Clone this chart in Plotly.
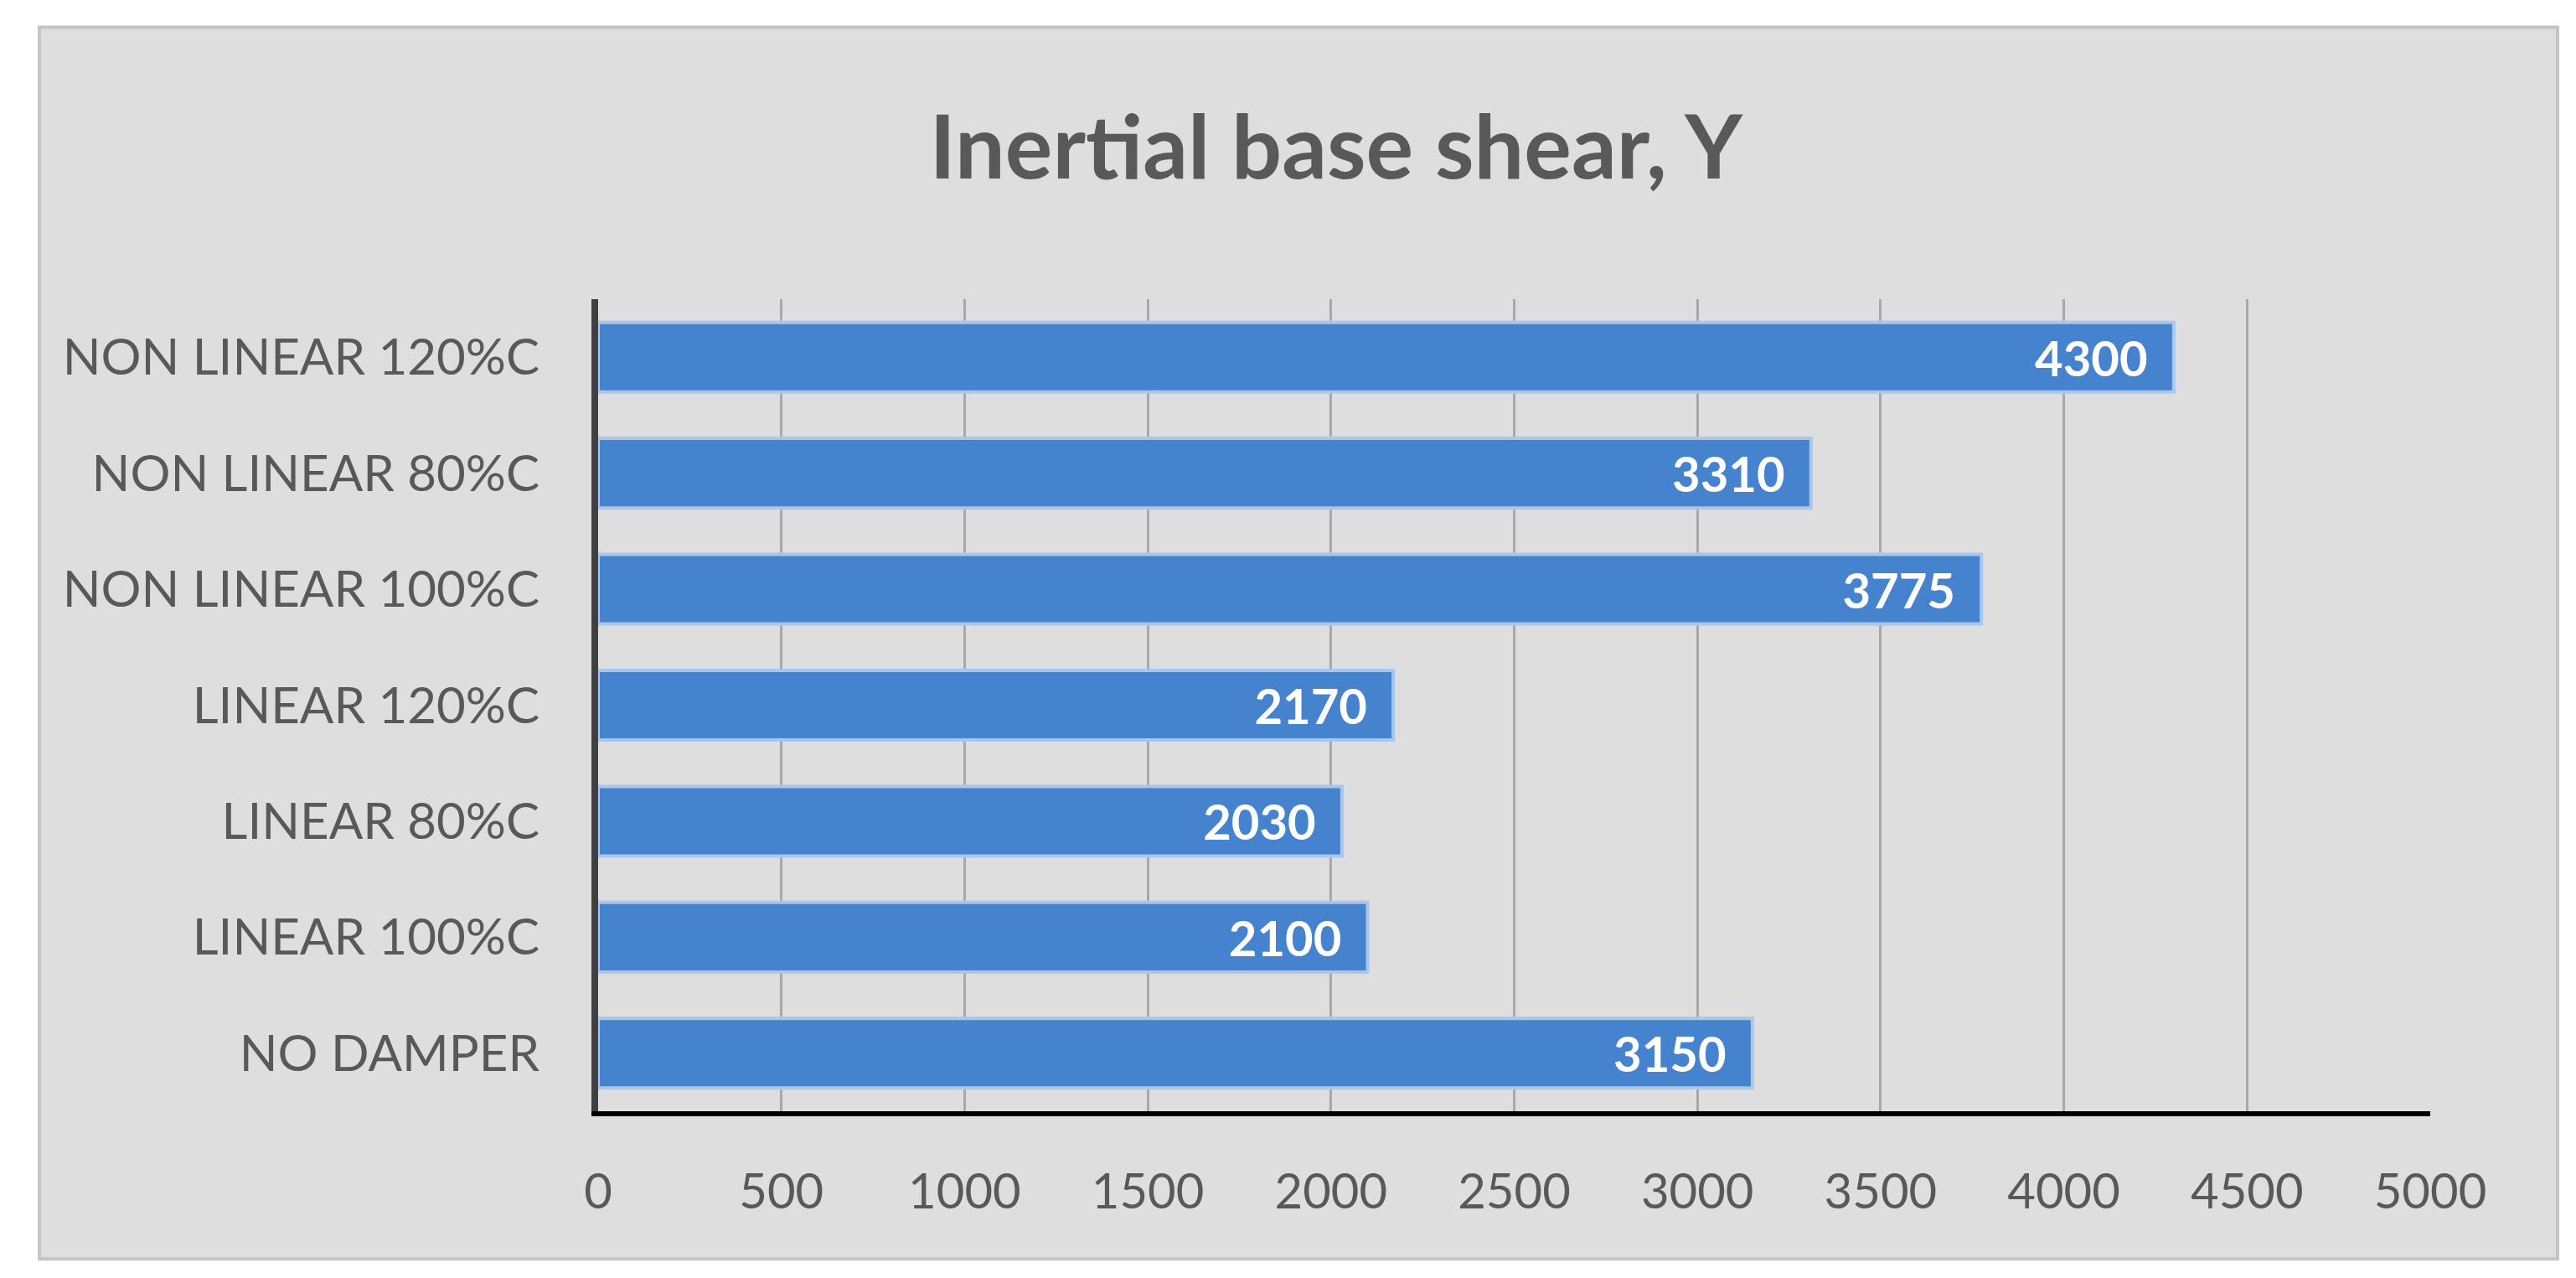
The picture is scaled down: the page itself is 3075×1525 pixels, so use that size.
import plotly.graph_objects as go

categories = ['NO DAMPER', 'LINEAR 100%C', 'LINEAR 80%C', 'LINEAR 120%C',
              'NON LINEAR 100%C', 'NON LINEAR 80%C', 'NON LINEAR 120%C']
shear = [3150, 2100, 2030, 2170, 3775, 3310, 4300]
x_ticks = [0, 500, 1000, 1500, 2000, 2500, 3000, 3500, 4000, 4500, 5000]

font = 'Lato, "Open Sans", sans-serif'

fig = go.Figure()
fig.add_trace(go.Bar(
    y = categories,
    x = shear,
    orientation = 'h',
    marker = dict(color = '#4683cf', line = dict(color = '#a9c6ee', width = 4)),
    text = [str(v) + '\u00a0\u00a0' for v in shear],
    textposition = 'inside',
    insidetextanchor = 'end',
    textfont = dict(family = font, size = 58, color = 'white', weight = 'bold'),
    cliponaxis = False,
))

# card background
fig.add_shape(type = 'rect', xref = 'paper', yref = 'paper', layer = 'below',
    x0 = -0.305, x1 = 1.0695, y0 = -0.182, y1 = 1.335,
    fillcolor = '#dedede', line = dict(color = '#c4c4c4', width = 4))

fig.update_layout(
    width = 3075, height = 1525,
    margin = dict(l = 706, r = 182, t = 349, b = 207),
    paper_bgcolor = 'white',
    plot_bgcolor = 'rgba(0,0,0,0)',
    showlegend = False,
    bargap = 0.4,
    title = dict(text = '<b>Inertial base shear, Y</b>', x = 0.516, xanchor = 'center',
                 y = 0.89, yanchor = 'middle',
                 font = dict(family = font, size = 106, color = '#595959')),
    xaxis = dict(range = [0, 5000], tickvals = x_ticks, showgrid = True,
                 gridcolor = '#a8a8a8', gridwidth = 3, zeroline = False,
                 showline = True, linecolor = 'black', linewidth = 6,
                 ticks = '', ticklabelstandoff = 40,
                 tickfont = dict(family = font, size = 58, color = '#595959')),
    yaxis = dict(categoryorder = 'array', categoryarray = categories,
                 showline = True, linecolor = '#404040', linewidth = 8,
                 showgrid = False, ticks = '', ticklabelstandoff = 50,
                 tickfont = dict(family = font, size = 60, color = '#595959')),
)

fig.write_html('out.html')
